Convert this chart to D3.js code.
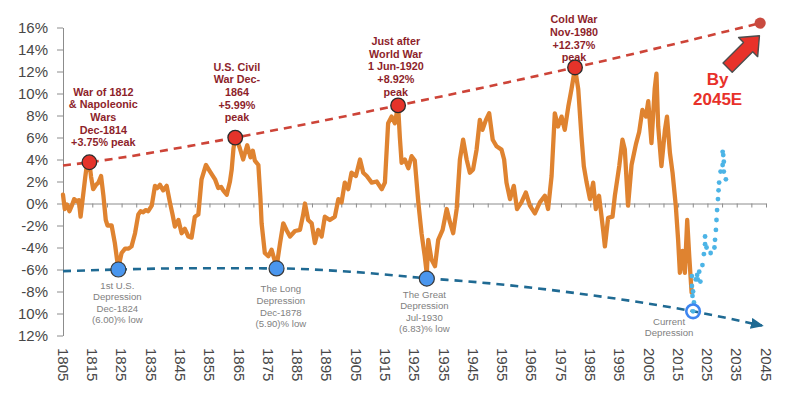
<!DOCTYPE html>
<html>
<head>
<meta charset="utf-8">
<script src="https://cdn.jsdelivr.net/npm/d3@7"></script>
<style>
  body { margin: 0; background: #fff; }
  svg { font-family: "Liberation Sans", Arial, sans-serif; }
</style>
</head>
<body>
<svg id="cycleChart" width="800" height="394"></svg>
<script>
// orange series (dates + % values)
const cycleYears = [
  1805.0, 1805.6, 1806.4, 1807.2, 1808.0, 1808.8, 1809.6, 1810.4, 1811.0, 1811.8,
  1812.6, 1813.2, 1814.0, 1814.6, 1815.3, 1816.3, 1817.1, 1818.0, 1818.8, 1819.6,
  1820.2, 1821.6, 1822.7, 1823.5, 1824.0, 1825.0, 1826.2, 1827.4, 1828.4, 1829.6,
  1830.7, 1831.5, 1832.4, 1833.2, 1834.1, 1835.3, 1836.4, 1837.2, 1838.1, 1839.2,
  1840.4, 1841.5, 1842.4, 1843.2, 1844.4, 1845.5, 1846.6, 1847.8, 1848.9, 1850.0,
  1851.2, 1852.3, 1853.8, 1855.2, 1856.9, 1858.0, 1859.0, 1859.7, 1860.9, 1862.0,
  1862.6, 1863.2, 1863.8, 1864.6, 1865.4, 1866.5, 1867.9, 1869.0, 1869.8, 1870.5,
  1871.7, 1872.4, 1872.8, 1873.9, 1875.1, 1876.2, 1877.4, 1878.0, 1879.1, 1880.2,
  1881.3, 1882.5, 1884.2, 1885.9, 1887.0, 1887.6, 1888.7, 1889.9, 1891.0, 1892.1,
  1893.3, 1894.4, 1896.1, 1897.8, 1899.0, 1900.1, 1901.2, 1902.4, 1903.5, 1905.0,
  1906.4, 1907.5, 1908.7, 1910.4, 1912.1, 1913.8, 1914.9, 1916.0, 1917.2, 1918.3,
  1919.4, 1920.0, 1920.6, 1921.7, 1922.9, 1924.0, 1925.1, 1926.3, 1927.4, 1928.5,
  1929.2, 1929.7, 1930.8, 1932.0, 1933.1, 1934.6, 1936.0, 1937.1, 1938.2, 1939.4,
  1940.5, 1941.6, 1942.8, 1943.9, 1945.0, 1946.2, 1947.3, 1948.2, 1949.4, 1950.5,
  1951.7, 1953.0, 1954.7, 1955.6, 1956.4, 1957.6, 1958.9, 1960.0, 1961.5, 1963.0,
  1964.4, 1966.1, 1967.8, 1969.5, 1970.6, 1971.8, 1972.9, 1974.0, 1975.2, 1976.3,
  1977.5, 1978.6, 1979.8, 1980.9, 1982.0, 1982.8, 1983.7, 1984.9, 1986.0, 1986.9,
  1988.0, 1989.4, 1990.0, 1991.1, 1992.6, 1993.4, 1994.9, 1996.0, 1996.8, 1997.9,
  1999.1, 2000.6, 2001.7, 2002.8, 2004.0, 2004.8, 2005.9, 2007.0, 2007.6, 2008.2,
  2009.3, 2010.5, 2011.2, 2012.2, 2013.1, 2014.2, 2015.0, 2015.6, 2016.5, 2017.3,
  2018.1, 2018.8, 2019.6
];
const cycleValues = [
  0.8, -0.5, -0.1, -0.7, -0.2, 0.4, 0.2, 0.3, -1.2, 0.6,
  2.4, 3.6, 3.7, 2.4, 1.3, 1.7, 1.9, 2.5, 0.7, -1.5,
  -2.0, -2.0, -3.6, -5.2, -5.7, -4.5, -4.1, -4.1, -3.9, -2.7,
  -1.0, -0.7, -0.8, -0.6, -0.7, -0.2, 1.6, 1.4, 1.7, 1.2,
  1.6, 0.1, -1.0, -2.1, -1.5, -2.7, -2.3, -3.0, -3.1, -1.2,
  -1.0, 2.2, 3.5, 2.9, 2.2, 1.4, 1.5, 1.2, 0.8, 2.0,
  3.1, 5.0, 6.0, 5.6, 5.0, 4.0, 5.3, 4.2, 4.8, 3.9,
  3.5, 0.5, -1.8, -4.5, -4.8, -4.2, -5.3, -5.6, -3.6, -1.8,
  -2.4, -3.0, -2.5, -2.4, -1.0, 0.0, -1.5, -1.8, -3.6, -2.4,
  -3.0, -1.2, -1.5, -1.2, 0.4, 0.1, 1.9, 1.3, 2.8, 2.5,
  4.0, 2.8, 2.5, 1.9, 2.0, 1.3, 1.9, 7.3, 7.9, 7.3,
  8.9, 6.0, 3.7, 4.0, 3.2, 4.3, 3.9, 0.1, -2.7, -4.8,
  -6.4, -3.3, -5.1, -5.7, -3.3, -2.4, -0.5, -1.7, -2.7, -0.5,
  4.0, 5.8, 4.0, 2.8, 3.1, 4.9, 7.6, 6.7, 7.6, 8.2,
  5.8, 5.2, 4.9, 4.0, 1.9, 0.4, 1.6, -0.5, 0.1, 1.0,
  -0.2, -0.9, 0.1, 0.7, -0.5, 2.5, 8.2, 7.0, 7.9, 6.7,
  8.8, 10.4, 12.3, 10.4, 6.1, 3.4, 2.0, 0.4, 1.9, -0.5,
  0.7, -2.4, -3.9, -1.3, -1.2, 0.7, 3.4, 5.8, 4.9, -0.2,
  3.5, 5.4, 6.5, 8.5, 7.9, 9.3, 5.5, 10.4, 11.8, 7.0,
  3.4, 6.7, 7.9, 4.6, 2.8, -0.2, -3.3, -6.3, -4.3, -6.3,
  -1.5, -4.8, -8.1
];

// light blue projection dots
const projYears = [
  2020.1, 2020.4, 2019.9, 2020.1, 2019.7, 2019.7, 2021.0, 2021.7, 2021.5, 2022.6,
  2022.2, 2023.3, 2023.8, 2024.2, 2024.2, 2024.7, 2026.1, 2027.4, 2027.6, 2027.9,
  2028.1, 2028.3, 2028.6, 2028.8, 2029.0, 2031.3, 2029.5, 2030.6, 2030.2, 2030.6,
  2030.4, 2030.2
];
const projValues = [
  -9.8, -9.0, -8.4, -8.0, -7.5, -6.6, -6.9, -6.9, -6.5, -7.1,
  -6.2, -5.6, -4.6, -3.7, -3.0, -4.0, -4.5, -4.0, -3.3, -2.4,
  -1.5, -0.6, 0.4, 1.2, 1.9, 2.2, 2.9, 2.9, 3.5, 3.8,
  4.4, 4.7
];

// peaks and troughs
const peakYears = [1814.0, 1863.8, 1919.4, 1979.8];
const peakValues = [3.75, 5.99, 8.92, 12.37];
const peakLabels = [
  ["War of 1812", "& Napoleonic", "Wars", "Dec-1814", "+3.75% peak"],
  ["U.S. Civil", "War Dec-", "1864", "+5.99%", "peak"],
  ["Just after", "World War", "1 Jun-1920", "+8.92%", "peak"],
  ["Cold War", "Nov-1980", "+12.37%", "peak"]
];
const troughYears = [1823.9, 1877.9, 1929.2];
const troughValues = [-6.00, -5.90, -6.83];
const troughLabels = [
  ["1st U.S.", "Depression", "Dec-1824", "(6.00)% low"],
  ["The Long", "Depression", "Dec-1878", "(5.90)% low"],
  ["The Great", "Depression", "Jul-1930", "(6.83)% low"]
];
const currentYear = 2020.1;
const currentValue = -9.8;
const currentLabel = ["Current", "Depression"];

// trend lines
const upperTrendYears = [1805, 1814.0, 1863.8, 1919.4, 1979.8, 2043];
const upperTrendValues = [3.45, 3.75, 5.99, 8.92, 12.37, 16.4];
const lowerTrendYears = [1805, 1823.9, 1851.8, 1877.9, 1903, 1929.2, 1946.2, 1981.5, 2020.1, 2043.6];
const lowerTrendValues = [-6.15, -6.0, -5.88, -5.9, -6.2, -6.8, -7.15, -8.2, -9.8, -11.1];

// axes
const yTicks = [16, 14, 12, 10, 8, 6, 4, 2, 0, -2, -4, -6, -8, -10, -12];
const yTickLabels = ["16%", "14%", "12%", "10%", "8%", "6%", "4%", "2%", "0%", "-2%", "-4%", "-6%", "-8%", "10%", "12%"];
const xTickYears = [1805, 1815, 1825, 1835, 1845, 1855, 1865, 1875, 1885, 1895, 1905, 1915,
  1925, 1935, 1945, 1955, 1965, 1975, 1985, 1995, 2005, 2015, 2025, 2035, 2045];

document.addEventListener("DOMContentLoaded", () => {
  const svg = d3.select("#cycleChart");

  const x = d3.scaleLinear().domain([1805, 2045]).range([63, 766]);
  const y = d3.scaleLinear().domain([-12, 16]).range([335.5, 27.5]);

  // arrow head for the lower trend
  svg.append("defs").append("marker")
    .attr("id", "blueHead")
    .attr("markerUnits", "userSpaceOnUse")
    .attr("viewBox", "0 0 13 11")
    .attr("markerWidth", 13)
    .attr("markerHeight", 11)
    .attr("refX", 11)
    .attr("refY", 5.5)
    .attr("orient", "auto")
    .append("path")
    .attr("d", "M0,0 L13,5.5 L0,11 Z")
    .attr("fill", "#1f6a93");

  // y axis
  const yAx = svg.append("g")
    .attr("transform", `translate(${x(1805)},0)`)
    .call(d3.axisLeft(y).tickValues(yTicks).tickFormat((d, i) => yTickLabels[i])
      .tickSize(6).tickSizeOuter(0).tickPadding(9));
  yAx.attr("font-family", null);
  yAx.selectAll("path, line").attr("stroke", "#8c8c8c");
  yAx.selectAll("text").attr("fill", "#474747").style("font-size", "15px");

  // zero line with 5-year ticks
  const zAx = svg.append("g")
    .attr("transform", `translate(0,${y(0)})`)
    .call(d3.axisBottom(x).tickValues(d3.range(1805, 2046, 5)).tickSize(4).tickSizeOuter(0).tickFormat(""));
  zAx.selectAll("path, line").attr("stroke", "#8c8c8c");

  // rotated year labels at the bottom
  svg.append("g").selectAll("text")
    .data(xTickYears)
    .join("text")
    .attr("transform", d => `translate(${x(d)},348) rotate(90)`)
    .attr("dy", "0.35em")
    .attr("fill", "#474747")
    .style("font-size", "15px")
    .text(d => d);

  // trend lines
  const trendLine = d3.line().x(d => x(d[0])).y(d => y(d[1])).curve(d3.curveMonotoneX);

  svg.append("path")
    .datum(d3.zip(lowerTrendYears, lowerTrendValues))
    .attr("d", trendLine)
    .attr("fill", "none")
    .attr("stroke", "#1f6a93")
    .attr("stroke-width", 2.6)
    .attr("stroke-dasharray", "8,6")
    .attr("marker-end", "url(#blueHead)");

  svg.append("path")
    .datum(d3.zip(upperTrendYears, upperTrendValues))
    .attr("d", trendLine)
    .attr("fill", "none")
    .attr("stroke", "#cd4438")
    .attr("stroke-width", 2.6)
    .attr("stroke-dasharray", "8,6");

  // orange series
  const cycleLine = d3.line().x(d => x(d[0])).y(d => y(d[1]));
  svg.append("path")
    .datum(d3.zip(cycleYears, cycleValues))
    .attr("d", cycleLine)
    .attr("fill", "none")
    .attr("stroke", "#df8330")
    .attr("stroke-width", 4.3)
    .attr("stroke-linejoin", "round")
    .attr("stroke-linecap", "round");

  // projection dots
  svg.append("g").selectAll("circle")
    .data(d3.zip(projYears, projValues))
    .join("circle")
    .attr("cx", d => x(d[0]))
    .attr("cy", d => y(d[1]))
    .attr("r", 2.4)
    .attr("fill", "#4cb4e6");

  // end point of upper trend + big arrow + "By 2045E"
  const ex = x(upperTrendYears[upperTrendYears.length - 1]);
  const ey = y(upperTrendValues[upperTrendValues.length - 1]);
  svg.append("circle")
    .attr("cx", ex).attr("cy", ey).attr("r", 5.6)
    .attr("fill", "#c94a3f");

  svg.append("path")
    .attr("d", "M-45,-6.5 L-16,-6.5 L-16,-13.5 L0,0 L-16,13.5 L-16,6.5 L-45,6.5 Z")
    .attr("transform", `translate(${ex - 0.7},${ey + 12.7}) rotate(-45)`)
    .attr("fill", "#e8322a")
    .attr("stroke", "#4d4d4d")
    .attr("stroke-width", 1.4)
    .attr("stroke-linejoin", "round");

  svg.append("g").selectAll("text")
    .data(["By", "2045E"])
    .join("text")
    .attr("x", ex - 42.5)
    .attr("y", (d, i) => ey + 55.7 + i * 20)
    .attr("dy", "0.35em")
    .attr("text-anchor", "middle")
    .attr("fill", "#e8312a")
    .style("font-size", "17px")
    .style("font-weight", "bold")
    .text(d => d);

  // peak markers and labels
  const peakOffsets = [[14, -19.6], [1.7, -20], [-2.3, -13.4], [-1, -10]];
  peakYears.forEach((yr, i) => {
    const px = x(yr), py = y(peakValues[i]);
    const lines = peakLabels[i];
    svg.append("g").selectAll("text")
      .data(lines)
      .join("text")
      .attr("x", px + peakOffsets[i][0])
      .attr("y", (d, j) => py + peakOffsets[i][1] - (lines.length - 1 - j) * 12.7)
      .attr("dy", "0.35em")
      .attr("text-anchor", "middle")
      .attr("fill", "#8e1f2b")
      .style("font-size", "10.8px")
      .style("font-weight", "bold")
      .text(d => d);
  });
  svg.append("g").selectAll("circle")
    .data(d3.zip(peakYears, peakValues))
    .join("circle")
    .attr("cx", d => x(d[0]))
    .attr("cy", d => y(d[1]))
    .attr("r", 7.3)
    .attr("fill", "#e5332a")
    .attr("stroke", "#2b2b2b")
    .attr("stroke-width", 1.3);

  // trough markers and labels
  const troughOffsets = [[-1, 15.7], [4.3, 20.7], [-2.4, 15.7]];
  troughYears.forEach((yr, i) => {
    const px = x(yr), py = y(troughValues[i]);
    svg.append("g").selectAll("text")
      .data(troughLabels[i])
      .join("text")
      .attr("x", px + troughOffsets[i][0])
      .attr("y", (d, j) => py + troughOffsets[i][1] + j * 11.6)
      .attr("dy", "0.35em")
      .attr("text-anchor", "middle")
      .attr("fill", "#7f7f7f")
      .style("font-size", "9.6px")
      .text(d => d);
  });
  svg.append("g").selectAll("circle")
    .data(d3.zip(troughYears, troughValues))
    .join("circle")
    .attr("cx", d => x(d[0]))
    .attr("cy", d => y(d[1]))
    .attr("r", 7.5)
    .attr("fill", "#4a96ee")
    .attr("stroke", "#3a3a3a")
    .attr("stroke-width", 1.2);

  // current depression ring
  svg.append("circle")
    .attr("cx", x(currentYear))
    .attr("cy", y(currentValue))
    .attr("r", 6.8)
    .attr("fill", "none")
    .attr("stroke", "#3d85f0")
    .attr("stroke-width", 2.6);
  svg.append("g").selectAll("text")
    .data(currentLabel)
    .join("text")
    .attr("x", x(currentYear) - 24)
    .attr("y", (d, j) => y(currentValue) + 10 + j * 11)
    .attr("dy", "0.35em")
    .attr("text-anchor", "middle")
    .attr("fill", "#7f7f7f")
    .style("font-size", "9.6px")
    .text(d => d);
});
</script>
</body>
</html>
